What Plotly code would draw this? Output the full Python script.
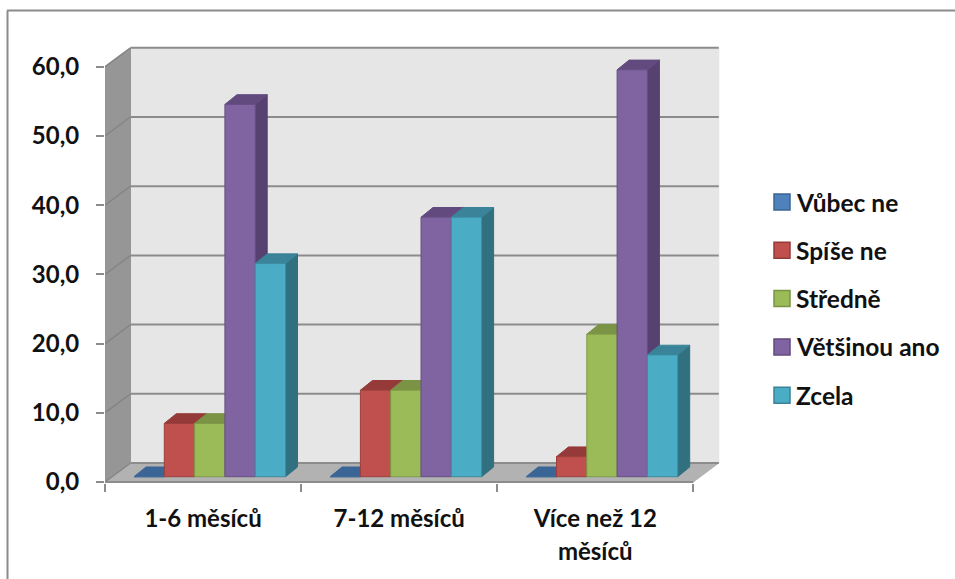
import plotly.graph_objects as go

# Data: percentage of answers per period of time
categories = ["1-6 měsíců", "7-12 měsíců", "Více než 12<br>měsíců"]
series_names = ["Vůbec ne", "Spíše ne", "Středně", "Většinou ano", "Zcela"]
vubec_ne = [0.0, 0.0, 0.0]
spise_ne = [7.7, 12.5, 2.9]
stredne = [7.7, 12.5, 20.6]
vetsinou_ano = [53.8, 37.5, 58.8]
zcela = [30.8, 37.5, 17.6]
series_values = [vubec_ne, spise_ne, stredne, vetsinou_ano, zcela]
y_ticks = [0, 10, 20, 30, 40, 50, 60]

# Excel-style palette: front, top and side faces plus edge colour
front_colors = ["#4F81BD", "#C0504D", "#9BBB59", "#8064A2", "#4BACC6"]
top_colors = ["#3B6595", "#953A38", "#7A9345", "#624A7F", "#3A8398"]
side_colors = ["#355A85", "#8A3532", "#6F863F", "#574170", "#31707F"]
edge_colors = ["#3F6A9C", "#9C3F3C", "#7F9A48", "#664F84", "#3C8DA3"]

WIDTH, HEIGHT = 955, 579

# Pixel geometry of the plot box and of the pseudo-3D projection
PX_LEFT, PX_RIGHT, PX_TOP, PX_BOTTOM = 105, 722, 46, 483
PX_PER_GROUP = 196.1
PX_PER_UNIT = 6.92
PX_ZERO = 482

x_range = [0, (PX_RIGHT - PX_LEFT) / PX_PER_GROUP]
y_range = [(PX_ZERO - PX_BOTTOM) / PX_PER_UNIT, (PX_ZERO - PX_TOP) / PX_PER_UNIT]

WALL_DX = 25.5 / PX_PER_GROUP
WALL_DY = 19 / PX_PER_UNIT
FLOOR_END = 3.0
BAR_W = 30.3 / PX_PER_GROUP
BAR_LEFT = 29 / PX_PER_GROUP
BAR_LIFT = 5.3 / PX_PER_UNIT
BAR_DX = 12 / PX_PER_GROUP
BAR_DY = 9.7 / PX_PER_UNIT

GRID = "#8C8C8C"
FONT = "Lato"
FONT_SIZE = 24
LEGEND_FONT_SIZE = 24.5
TEXT_COLOR = "#111111"


def poly(points):
    return "M " + " L ".join(f"{x},{y}" for x, y in points) + " Z"


def face(points, fill, line=None):
    return dict(type="path", xref="x", yref="y", layer="below", path=poly(points),
                fillcolor=fill, line=dict(color=line or fill, width=1))


def rule(x0, y0, x1, y1, width=2, color=GRID):
    return dict(type="line", xref="x", yref="y", layer="below", x0=x0, y0=y0, x1=x1, y1=y1,
                line=dict(color=color, width=width))


shapes = []

# Walls and floor of the chart box
top_wall = 60 + WALL_DY
shapes.append(face([(WALL_DX, WALL_DY), (FLOOR_END + WALL_DX, WALL_DY),
                    (FLOOR_END + WALL_DX, top_wall), (WALL_DX, top_wall)], "#E6E6E6"))
shapes.append(face([(0, 0), (0, 60), (WALL_DX, top_wall), (WALL_DX, WALL_DY)], "#969696"))
shapes.append(face([(0, 0), (FLOOR_END, 0), (FLOOR_END + WALL_DX, WALL_DY), (WALL_DX, WALL_DY)], "#B2B2B2"))

# Gridlines run along the back wall and fold down the side wall
for tick in y_ticks:
    shapes.append(rule(0, tick, WALL_DX, tick + WALL_DY, width=1.5, color="#858585"))
    shapes.append(rule(WALL_DX, tick + WALL_DY, FLOOR_END + WALL_DX, tick + WALL_DY))
shapes.append(rule(0, 0, FLOOR_END, 0))

# Top and side faces of each bar, painted left to right behind the fronts
for g in range(len(categories)):
    for i, values in enumerate(series_values):
        x0 = g + BAR_LEFT + i * BAR_W
        x1 = x0 + BAR_W
        top = BAR_LIFT + values[g]
        shapes.append(face([(x1, BAR_LIFT), (x1, top), (x1 + BAR_DX, top + BAR_DY),
                            (x1 + BAR_DX, BAR_LIFT + BAR_DY)], side_colors[i]))
        shapes.append(face([(x0, top), (x1, top), (x1 + BAR_DX, top + BAR_DY),
                            (x0 + BAR_DX, top + BAR_DY)], top_colors[i]))

# Outer frame around the chart
shapes.append(dict(type="line", xref="paper", yref="paper", x0=7.5 / WIDTH, x1=7.5 / WIDTH,
                   y0=0, y1=1 - 10.5 / HEIGHT, line=dict(color=GRID, width=2)))
shapes.append(dict(type="line", xref="paper", yref="paper", x0=7 / WIDTH, x1=1,
                   y0=1 - 10.5 / HEIGHT, y1=1 - 10.5 / HEIGHT, line=dict(color=GRID, width=2)))

# Hand-placed legend so the swatches and row spacing can be sized freely
annotations = []
for i, name in enumerate(series_names):
    cy = 202 + i * 48.3
    shapes.append(dict(type="rect", xref="paper", yref="paper",
                       x0=774 / WIDTH, x1=790 / WIDTH,
                       y0=1 - (cy - 8) / HEIGHT, y1=1 - (cy + 8) / HEIGHT,
                       fillcolor=front_colors[i], line=dict(color=top_colors[i], width=1.5)))
    annotations.append(dict(xref="paper", yref="paper", x=794 / WIDTH, y=1 - cy / HEIGHT,
                            xanchor="left", yanchor="middle", showarrow=False, text=name,
                            font=dict(family=FONT, size=LEGEND_FONT_SIZE, color=TEXT_COLOR, weight="bold")))

fig = go.Figure()
for i, (name, values) in enumerate(zip(series_names, series_values)):
    fig.add_trace(go.Bar(
        name=name,
        x=[g + 0.5 for g in range(len(categories))],
        y=values,
        base=BAR_LIFT,
        width=BAR_W,
        offset=BAR_LEFT + i * BAR_W - 0.5,
        marker=dict(color=front_colors[i], line=dict(color=edge_colors[i], width=1)),
        showlegend=False,
    ))

fig.update_layout(
    width=WIDTH,
    height=HEIGHT,
    margin=dict(l=0, r=0, t=0, b=0),
    autosize=False,
    barmode="overlay",
    separators=", ",
    paper_bgcolor="white",
    plot_bgcolor="white",
    shapes=shapes,
    annotations=annotations,
    showlegend=False,
    xaxis=dict(
        domain=[PX_LEFT / WIDTH, PX_RIGHT / WIDTH],
        range=x_range,
        automargin=False,
        tickmode="array",
        tickvals=[0, 1, 2, 3],
        ticktext=["", "", "", ""],
        ticks="outside",
        ticklen=8,
        tickwidth=2,
        tickcolor=GRID,
        showgrid=False,
        zeroline=False,
        showline=False,
    ),
    # Category names sit on a second, invisible axis so they can centre between the ticks
    xaxis2=dict(
        domain=[PX_LEFT / WIDTH, PX_RIGHT / WIDTH],
        range=x_range,
        automargin=False,
        overlaying="x",
        side="bottom",
        anchor="y",
        tickmode="array",
        tickvals=[g + 0.5 for g in range(len(categories))],
        ticktext=[f'<span style="font-size:{FONT_SIZE}px">{c}</span>'.replace(
            "<br>", f'</span><br><span style="font-size:{FONT_SIZE}px">') for c in categories],
        tickfont=dict(family=FONT, size=25, color=TEXT_COLOR, weight="bold"),
        ticklen=0,
        ticklabelstandoff=18,
        showgrid=False,
        zeroline=False,
        showline=False,
    ),
    yaxis=dict(
        domain=[1 - PX_BOTTOM / HEIGHT, 1 - PX_TOP / HEIGHT],
        range=y_range,
        automargin=False,
        tickmode="array",
        tickvals=y_ticks,
        tickformat=".1f",
        ticks="outside",
        ticklen=8,
        tickwidth=2,
        tickcolor=GRID,
        ticklabelstandoff=12,
        tickfont=dict(family=FONT, size=FONT_SIZE, color=TEXT_COLOR, weight="bold"),
        showgrid=False,
        zeroline=False,
        showline=False,
    ),
)

# An empty trace activates the overlaid label axis
fig.add_trace(go.Scatter(x=[None], y=[None], xaxis="x2", yaxis="y", showlegend=False, hoverinfo="skip"))

fig.write_html("out.html")
